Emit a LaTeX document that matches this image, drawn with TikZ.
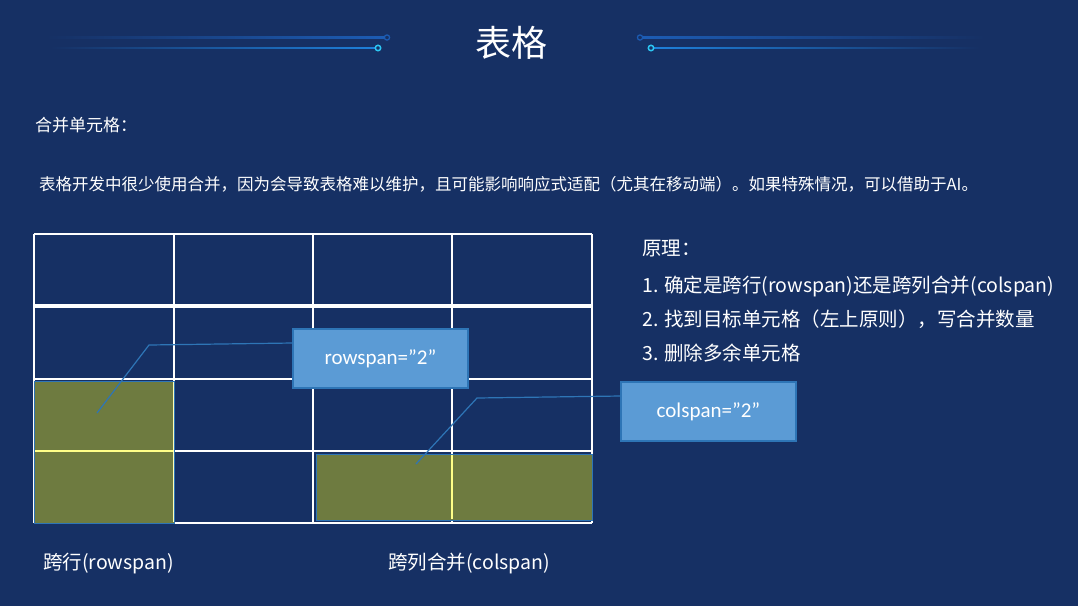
\documentclass[tikz,border=0pt]{standalone}
\usepackage{fontspec}
\setmainfont{Noto Sans CJK SC}
\newfontfamily\calloutfont{Carlito}
\usepackage{tikz}
\usetikzlibrary{positioning}
\definecolor{bgblue}{HTML}{163064}
\definecolor{boxblue}{HTML}{5B9BD5}
\definecolor{edgeblue}{HTML}{2E75B6}
\definecolor{mergeolive}{HTML}{6E7B40}
\definecolor{seam}{HTML}{FFFF88}
\definecolor{glowdark}{HTML}{1C5CB4}
\definecolor{glowlite}{HTML}{1E80DA}
\definecolor{tipcyan}{HTML}{2CC6F2}

\begin{document}
\begin{tikzpicture}[x=1pt,y=-1pt,
  txt/.style={anchor=base west,text=white,inner sep=0pt,font=\fontsize{19.5}{23}\selectfont},
  callout/.style={draw=edgeblue,fill=boxblue,line width=1.3pt,text=white,
    minimum width=175pt,minimum height=59pt,inner sep=0pt,font=\calloutfont\fontsize{21}{25}\selectfont},
  leader/.style={edgeblue,line width=1.2pt},
  cellmerge/.style={fill=mergeolive,draw=edgeblue,line width=1pt},
  gridline/.style={white,line width=1.6pt}]
  \fill[bgblue] (0,0) rectangle (1078,606);
  \useasboundingbox (0,0) rectangle (1078,606);

  % title with glowing rails
  \node[anchor=base,text=white,inner sep=0pt,font=\fontsize{36}{40}\selectfont] (title) at (511,56) {表格};
  \shade[left color=bgblue,right color=glowdark] (46,36.7) rectangle (385,38.3);
  \shade[left color=bgblue,right color=glowlite] (50,47.1) rectangle (376,48.9);
  \shade[left color=glowdark,right color=bgblue] (642,36.7) rectangle (985,38.3);
  \shade[left color=glowlite,right color=bgblue] (653,47.1) rectangle (980,48.9);
  \draw[glowdark,line width=1.2pt,fill=bgblue] (387,37.5) circle (2.6);
  \draw[glowdark,line width=1.2pt,fill=bgblue] (640,37.5) circle (2.6);
  \draw[tipcyan,line width=1.5pt,fill=bgblue] (378,48) circle (2.7);
  \draw[tipcyan,line width=1.5pt,fill=bgblue] (651,48) circle (2.7);

  \node[txt,font=\fontsize{17}{20}\selectfont] (head) at (35,131) {合并单元格：};
  \node[txt,font=\fontsize{16.5}{20}\selectfont] (note) at (39,190)
    {表格开发中很少使用合并，因为会导致表格难以维护，且可能影响响应式适配（尤其在移动端）。如果特殊情况，可以借助于AI。};

  % the table
  \foreach \x in {34,174,313,452,592}
    \draw[gridline] (\x,234) -- (\x,523);
  \foreach \y in {234,379,451,523}
    \draw[gridline] (34,\y) -- (592,\y);
  \draw[white,line width=3.5pt] (34,306) -- (592,306);

  % merged cells
  \draw[cellmerge] (34,381) rectangle (174,523);
  \draw[seam,line width=1.8pt] (35,451) -- (173,451);
  \draw[seam!60!white,line width=1pt] (173.5,382) -- (173.5,522);
  \draw[cellmerge] (316,454) rectangle (592,520);
  \draw[seam,line width=1.2pt] (452,455) -- (452,519);

  % callouts
  \node[callout] (rowbox) at (380.5,358.5) {rowspan=”2”};
  \node[callout] (colbox) at (708.5,411.5) {colspan=”2”};
  \coordinate (rowbend) at (149,345);
  \coordinate (rowtip) at (97,413);
  \coordinate (colbend) at (477,398);
  \coordinate (coltip) at (416,464);
  \draw[leader] ([yshift=15.5pt]rowbox.west) -- (rowbend) -- (rowtip);
  \draw[leader] ([yshift=15.5pt]colbox.west) -- (colbend) -- (coltip);

  % principles
  \node[txt] (rule) at (642,255) {原理：};
  \node[txt] (step1) at (642,292) {1. 确定是跨行(rowspan)还是跨列合并(colspan)};
  \node[txt] (step2) at (642,326) {2. 找到目标单元格（左上原则），写合并数量};
  \node[txt] (step3) at (642,360) {3. 删除多余单元格};

  \node[txt] (rowlabel) at (43,569) {跨行(rowspan)};
  \node[txt] (collabel) at (388,569) {跨列合并(colspan)};
\end{tikzpicture}
\end{document}
